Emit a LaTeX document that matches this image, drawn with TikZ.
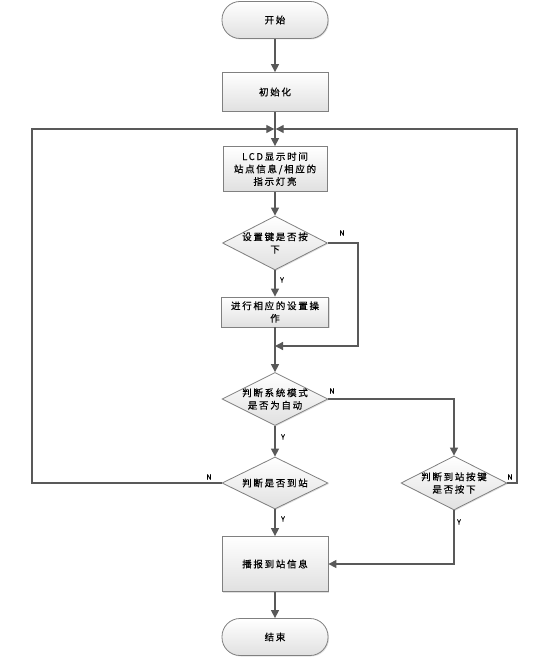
\documentclass[tikz,border=0pt]{standalone}
\usepackage{fontspec}
\newfontfamily\cjk[LetterSpace=18,FakeBold=0.4]{Noto Sans CJK SC}
\newfontfamily\cjklab[FakeBold=1]{Noto Sans CJK SC}
\usetikzlibrary{shapes,arrows.meta,shadows}

\definecolor{linegray}{RGB}{89,89,89}
\definecolor{boxgray}{RGB}{128,128,128}

\tikzset{
    box/.style={rectangle, draw=boxgray, line width=0.8pt, top color=white, bottom color=black!12,
        align=center, inner sep=0pt, font=\cjk\fontsize{9.5}{12.5}\selectfont,
        drop shadow={opacity=0.25, shadow xshift=1pt, shadow yshift=-1pt}},
    term/.style={box, rounded corners=18pt},
    decide/.style={box, diamond, inner sep=-16pt},
    arr/.style={draw=linegray, line width=1.3pt, -{Triangle[length=8pt,width=8pt]}},
    yn/.style={font=\cjklab\fontsize{7}{8}\selectfont, inner sep=0pt}
}

\begin{document}
\begin{tikzpicture}[x=1pt,y=1pt,yscale=-1]
    \useasboundingbox (0,0) rectangle (550,660);

    %Shapes
    \node[term, minimum width=106, minimum height=37] (start) at (275,20) {开始};
    \node[box, minimum width=106, minimum height=39] (init) at (275,92) {初始化};
    \node[box, minimum width=104, minimum height=45] (lcd) at (275,169) {LCD显示时间\\站点信息/相应的\\指示灯亮};
    \node[decide, minimum width=105, minimum height=54] (setkey) at (275,243) {设置键是否按\\下};
    \node[box, minimum width=107, minimum height=30] (setop) at (275,312) {进行相应的设置操\\作};
    \node[decide, minimum width=106, minimum height=53] (mode) at (275,399) {判断系统模式\\是否为自动};
    \node[decide, minimum width=106, minimum height=52] (arrive) at (275,483) {判断是否到站};
    \node[decide, minimum width=106, minimum height=54] (stakey) at (454,483) {判断到站按键\\是否按下};
    \node[box, minimum width=106, minimum height=55] (report) at (275,564) {播报到站信息};
    \node[term, minimum width=106, minimum height=37] (stop) at (275,637) {结束};

    %Corner points
    \coordinate (join) at (275,129);
    \coordinate (lcorner) at (32,129);
    \coordinate (rcorner) at (517,129);
    \coordinate (setcorner) at (358,346);
    \coordinate (setjoin) at (275,346);

    %Connectors
    \draw[arr] (start) -- (init);
    \draw[arr] (init) -- (lcd);
    \draw[arr] (lcd) -- (setkey);
    \draw[arr] (setkey) -- (setop);
    \draw[arr] (setkey.east) -| (setcorner) -- (setjoin);
    \draw[arr] (setop) -- (mode);
    \draw[arr] (mode) -- (arrive);
    \draw[arr] (mode.east) -| (stakey.north);
    \draw[arr, shorten >=0.7pt] (arrive.west) -| (lcorner) -- (join);
    \draw[arr, shorten >=0.7pt] (stakey.east) -| (rcorner) -- (join);
    \draw[arr] (arrive) -- (report);
    \draw[arr] (stakey.south) |- (report.east);
    \draw[arr] (report) -- (stop);

    % Text Node
    \node[yn] (n1) at (342,233) {N};
    \node[yn] (y1) at (282,280) {Y};
    \node[yn] (n2) at (332,391) {N};
    \node[yn] (y2) at (283,437) {Y};
    \node[yn] (n3) at (209,477) {N};
    \node[yn] (y3) at (283,519) {Y};
    \node[yn] (n4) at (510,477) {N};
    \node[yn] (y4) at (459,522) {Y};
\end{tikzpicture}
\end{document}
